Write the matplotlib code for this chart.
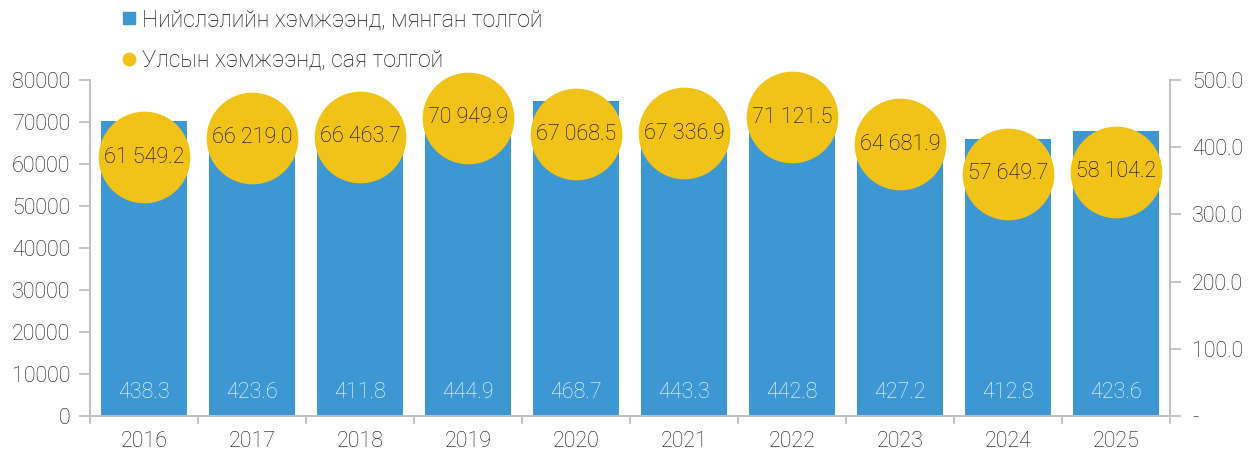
from matplotlib import pyplot as plt
from matplotlib.lines import Line2D
import numpy as np

plt.rcParams['font.family'] = ['Roboto', 'DejaVu Sans']
plt.rcParams['font.weight'] = 'light'

# data
years = ['2016', '2017', '2018', '2019', '2020', '2021', '2022', '2023', '2024', '2025']
capital = [438.3, 423.6, 411.8, 444.9, 468.7, 443.3, 442.8, 427.2, 412.8, 423.6]
national = [61549.2, 66219.0, 66463.7, 70949.9, 67068.5, 67336.9, 71121.5, 64681.9, 57649.7, 58104.2]

bar_color = '#3C97D3'
dot_color = '#F1C319'
grey = '#BFBFBF'
txt = '#111111'

fig = plt.figure(figsize=(12.48, 4.54), dpi=100)
ax = fig.add_axes([0.072, 0.0837, 0.8655, 0.7403])
ax2 = ax.twinx()

x = np.arange(len(years))

# bars on right axis, circles on left axis (on top)
ax2.bar(x, capital, width=0.8, color=bar_color, zorder=1)
for i, v in enumerate(capital):
    ax2.text(i, 0.07, f'{v:.1f}', transform=ax2.get_xaxis_transform(),
             ha='center', va='center', color='white', fontsize=15.5)

ax.set_zorder(ax2.get_zorder() + 1)
ax.patch.set_visible(False)
ax.scatter(x, national, s=66**2, color=dot_color, zorder=3, linewidths=0, clip_on=False)
for i, v in enumerate(national):
    ax.text(i, v, f'{v:,.1f}'.replace(',', ' '), ha='center', va='center',
            fontsize=15.5, color='#000000', zorder=4)

ax.set_xlim(-0.5, len(years) - 0.5)
ax.set_ylim(0, 80000)
ax2.set_ylim(0, 500)
ax.set_yticks(np.arange(0, 80001, 10000))
ax2.set_yticks(np.arange(0, 501, 100))
ax2.set_yticklabels(['-' if t == 0 else f'{t:.1f}' for t in np.arange(0, 501, 100)])

ax.set_xticks(x)
ax.set_xticklabels(years)
ax.set_xticks(np.arange(-0.5, len(years)), minor=True)
ax.tick_params(axis='x', which='major', length=0, pad=11, labelsize=15.5, colors=txt)
ax.tick_params(axis='x', which='minor', length=6, color=grey, width=1.3)
ax.tick_params(axis='y', length=8, color=grey, width=1.3, labelsize=15.5, labelcolor=txt, pad=6)
ax2.tick_params(axis='y', length=8, color=grey, width=1.3, labelsize=15.5, labelcolor=txt, pad=8)

for a in (ax, ax2):
    a.spines['top'].set_visible(False)
    for s in ('left', 'right', 'bottom'):
        a.spines[s].set_color(grey)
        a.spines[s].set_linewidth(1.3)

handles = [
    Line2D([], [], marker='s', linestyle='none', color=bar_color, markersize=8),
    Line2D([], [], marker='o', linestyle='none', color=dot_color, markersize=9),
]
labels = ['Нийслэлийн хэмжээнд, мянган толгой', 'Улсын хэмжээнд, сая толгой']
fig.legend(handles, labels, loc='upper left', bbox_to_anchor=(0.078, 1.027),
           frameon=False, fontsize=16.5, handletextpad=0.05, handlelength=1.0,
           labelspacing=0.75, labelcolor=txt)

fig.savefig('out.png', dpi=100)
